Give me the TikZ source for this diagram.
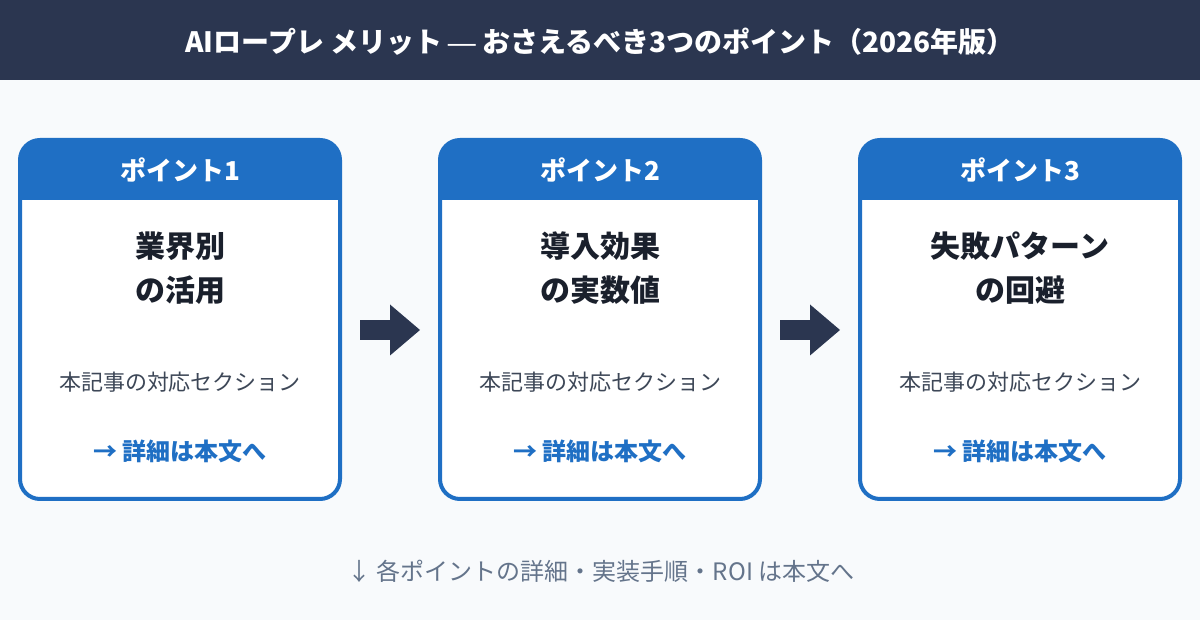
\documentclass[tikz,border=0pt]{standalone}
\usepackage{fontspec}
\setmainfont{Noto Sans CJK JP}
\newfontfamily\dashfont{Liberation Sans}
\usepackage{tikz}
\usetikzlibrary{positioning,arrows.meta}
\definecolor{navy}{HTML}{2B3650}
\definecolor{pagebg}{HTML}{F8FAFC}
\definecolor{cardblue}{HTML}{1F6FC4}
\definecolor{inktext}{HTML}{1A202C}
\definecolor{subtext}{HTML}{3D4757}
\definecolor{foottext}{HTML}{64748B}
\tikzset{
  banner/.style={fill=navy, text=white, minimum width=1200pt, minimum height=80pt, inner sep=0pt, text height=28pt, text depth=3pt, font=\fontsize{28}{34}\selectfont\bfseries},
  card/.style={draw=cardblue, fill=white, line width=4pt, rounded corners=20pt, minimum width=320pt, minimum height=359pt, inner sep=0pt,
    path picture={\fill[cardblue, sharp corners] (path picture bounding box.north west) rectangle ([yshift=-60pt]path picture bounding box.north east);}},
  headtext/.style={text=white, inner sep=0pt, font=\fontsize{26}{30}\selectfont\bfseries},
  titletext/.style={text=inktext, inner sep=0pt, align=center, font=\fontsize{30}{44}\selectfont\bfseries},
  subtitle/.style={text=subtext, inner sep=0pt, font=\fontsize{22}{26}\selectfont},
  linktext/.style={text=cardblue, inner sep=0pt, font=\fontsize{24}{28}\selectfont\bfseries},
  flow/.style={draw=navy, line width=20pt, -{Triangle[length=30pt,width=51pt,line width=0pt,fill=navy]}, shorten >=18pt, shorten <=18pt},
}
\begin{document}
\begin{tikzpicture}[x=1pt, y=1pt, node distance=96pt]
    \useasboundingbox (0,0) rectangle (1200,620);
    \fill[pagebg] (0,0) rectangle (1200,620);

    % Title bar
    \node[banner] (bar) at (600,580) {AIロープレ メリット\kern-1pt{} {\dashfont\mdseries —} おさえるべき3つのポイント（2026年版）};

    % Three cards
    \node[card] (card1) at (180,300.5) {};
    \node[card, right=of card1] (card2) {};
    \node[card, right=of card2] (card3) {};

    % Card headers
    \node[headtext, below=20pt of card1.north] (head1) {ポイント1};
    \node[headtext, below=20pt of card2.north] (head2) {ポイント2};
    \node[headtext, below=20pt of card3.north] (head3) {ポイント3};

    % Card titles
    \node[titletext, below=94pt of card1.north] (title1) {業界別\\の活用};
    \node[titletext, below=94pt of card2.north] (title2) {導入効果\\の実数値};
    \node[titletext, below=94pt of card3.north] (title3) {失敗パターン\\の回避};

    % Section notes
    \node[subtitle, below=234pt of card1.north] (note1) {本記事の対応セクション};
    \node[subtitle, below=234pt of card2.north] (note2) {本記事の対応セクション};
    \node[subtitle, below=234pt of card3.north] (note3) {本記事の対応セクション};

    % Links
    \node[linktext, below=302pt of card1.north] (link1) {→ 詳細は本文へ};
    \node[linktext, below=302pt of card2.north] (link2) {→ 詳細は本文へ};
    \node[linktext, below=302pt of card3.north] (link3) {→ 詳細は本文へ};

    % Connections
    \draw[flow] ([yshift=-10.5pt]card1.east) -- ([yshift=-10.5pt]card2.west);
    \draw[flow] ([yshift=-10.5pt]card2.east) -- ([yshift=-10.5pt]card3.west);

    % Footer
    \node[text=foottext, inner sep=0pt, font=\fontsize{24}{28}\selectfont] (foot) at (601,49) {↓ 各ポイントの詳細・実装手順・ROI は本文へ};
\end{tikzpicture}
\end{document}
